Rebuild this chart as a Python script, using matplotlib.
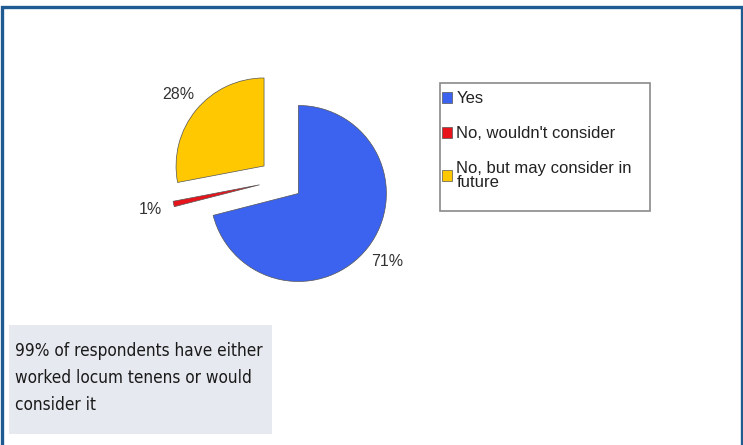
import matplotlib.pyplot as plt
from matplotlib import font_manager
from matplotlib.font_manager import FontProperties
from matplotlib.patches import Rectangle

# survey answers
labels = ['Yes', "No, wouldn't consider", 'No, but may consider in\nfuture']
shares = [71, 1, 28]
colors = ['#3B63F0', '#E8141B', '#FFC800']
note = '99% of respondents have either\nworked locum tenens or would\nconsider it'

W, H = 743, 445
fig = plt.figure(figsize=(W / 100, H / 100), dpi=100)
renderer = fig.canvas.get_renderer()

def px(x, y, w, h):
    # pixel box (top-left origin) -> figure fraction
    return [x / W, 1 - (y + h) / H, w / W, h / H]

def extent_of(s, fp, **kw):
    t = fig.text(0, 0, s, fontproperties=fp, **kw)
    e = t.get_window_extent(renderer)
    t.remove()
    return e

# regular-weight condensed face for the note, sized so line 1 is ~247 px
cond = [f.fname for f in font_manager.fontManager.ttflist
        if f.fname.endswith('DejaVuSansCondensed.ttf')]
if cond:
    note_fp = FontProperties(fname=cond[0], size=17)
else:
    note_fp = FontProperties(family='Liberation Sans', size=17)
first = note.split('\n')[0]
note_fp.set_size(min(17, 17 * 247 / extent_of(first, note_fp).width))
step = (extent_of('A\nA', note_fp, linespacing=1).height
        - extent_of('A', note_fp, linespacing=1).height)

# pie: centre ~(281,180), radius ~88 px
L = 1.6
S = 2 * L * 88
ax = fig.add_axes(px(281 - S / 2, 180 - S / 2, S, S))
wedges, texts, autotexts = ax.pie(
    shares, colors=colors, startangle=90, counterclock=False,
    explode=[0.25, 0.25, 0.25], autopct='%d%%', pctdistance=1.27,
    wedgeprops=dict(edgecolor='#555555', linewidth=0.5),
    textprops=dict(fontsize=11.5, color='#333333', family='Liberation Sans'))
ax.set_xlim(-L, L)
ax.set_ylim(-L, L)
ax.set_aspect('equal')
ax.axis('off')

# legend with its own frame
fig.patches.append(Rectangle((440 / W, 1 - 211 / H), 210 / W, 128 / H,
                             transform=fig.transFigure, facecolor='white',
                             edgecolor='#8a8a8a', linewidth=1.2, zorder=1))
leg = fig.legend(wedges, labels, loc='upper left',
                 bbox_to_anchor=(442 / W, 1 - 91 / H), borderaxespad=0,
                 frameon=False, handlelength=0.62, handleheight=0.62,
                 handletextpad=0.25, labelspacing=1.2, borderpad=0,
                 prop=dict(family='Liberation Sans', size=12))
leg.set_zorder(2)
for t in leg.get_texts():
    t.set_linespacing(0.9)
    t.set_color('#222222')

# note box
fig.patches.append(Rectangle((9 / W, 1 - 434 / H), 263 / W, 109 / H,
                             transform=fig.transFigure, facecolor='#E6EAF0',
                             edgecolor='none', zorder=0))
fig.text(15 / W, 1 - 378 / H, note, ha='left', va='center',
         color='#1a1a1a', linespacing=30 / step, fontproperties=note_fp)

# outer frame
fig.patches.append(Rectangle((1.5 / W, -0.05), 740 / W, 1.05 - 7.5 / H,
                             transform=fig.transFigure, facecolor='none',
                             edgecolor='#1F5A92', linewidth=2.4, zorder=5))

fig.savefig('out.png', dpi=100)
